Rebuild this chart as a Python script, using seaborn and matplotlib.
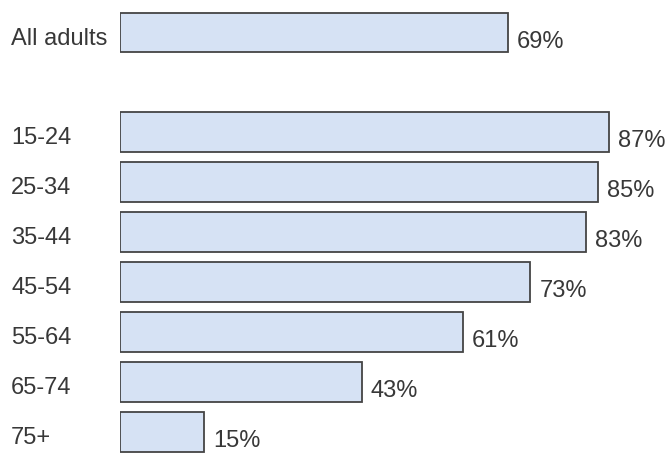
import matplotlib
matplotlib.use("Agg")
import matplotlib.pyplot as plt
import matplotlib.transforms as mtransforms
import seaborn as sns
import pandas as pd

categories = ["All adults", "15-24", "25-34", "35-44", "45-54", "55-64", "65-74", "75+"]
values = [69, 87, 85, 83, 73, 61, 43, 15]
value_labels = ["69%", "87%", "85%", "83%", "73%", "61%", "43%", "15%"]

order = ["All adults", " "] + categories[1:]

sns.set_theme(style="white")
plt.rcParams["font.family"] = ["Liberation Sans", "DejaVu Sans"]

fig = plt.figure(figsize=(6.71, 4.56), dpi=100)
ax = fig.add_axes([120 / 671, 0, 551 / 671, 1])

df = pd.DataFrame({"cat": categories, "val": values})
sns.barplot(data=df, y="cat", x="val", order=order, orient="h", width=0.8,
            color="#d6e2f4", edgecolor="#444444", linewidth=1.3, saturation=1,
            ax=ax, errorbar=None)

for p in ax.patches:
    p.set_facecolor("#d6e2f4")

pitch = (433 - 33.5) / 8
ax.set_xlim(0, 551 / 5.62)
ax.set_ylim(8 + (456 - 433) / pitch, -33.5 / pitch)
ax.set_xlabel("")
ax.set_ylabel("")
ax.set_xticks([])
ax.set_yticks([])
for s in ax.spines.values():
    s.set_visible(False)

txt_color = "#383838"
left_tr = mtransforms.blended_transform_factory(fig.transFigure, ax.transData)
left_tr = mtransforms.offset_copy(left_tr, fig=fig, x=0, y=-5, units="dots")
val_tr = mtransforms.offset_copy(ax.transData, fig=fig, x=9, y=-8, units="dots")

for cat, v, lab in zip(categories, values, value_labels):
    yi = order.index(cat)
    ax.text(11 / 671, yi, cat, transform=left_tr, ha="left", va="center",
            fontsize=17, color=txt_color)
    ax.text(v, yi, lab, transform=val_tr, ha="left", va="center",
            fontsize=17, color=txt_color)

fig.savefig("out.png", dpi=100)
